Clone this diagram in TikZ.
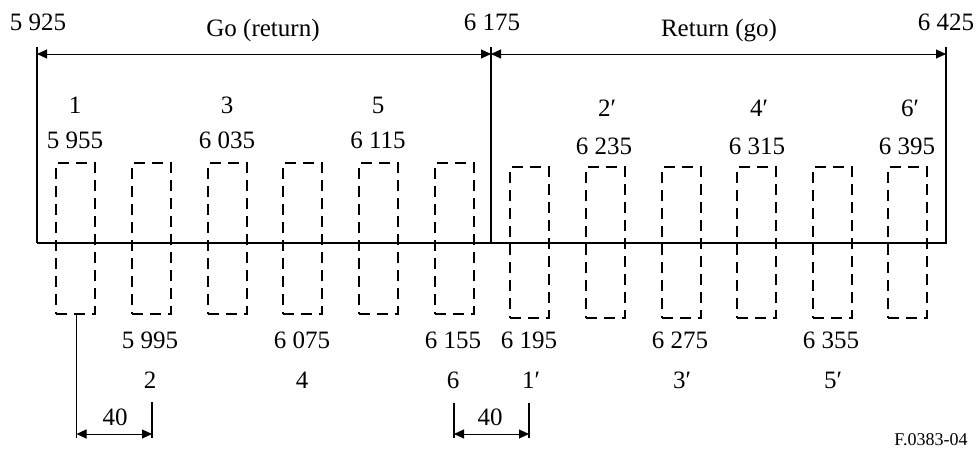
\documentclass[tikz,border=0pt]{standalone}
\usepackage{fontspec}
\setmainfont{Liberation Serif}
\usetikzlibrary{arrows.meta}
\begin{document}
\begin{tikzpicture}[x=1pt,y=-1pt,
  lbl/.style={inner sep=0pt, text height=17pt, text depth=0pt, font=\fontsize{25}{29}\selectfont},
  small/.style={inner sep=0pt, text height=12.5pt, text depth=0pt, font=\fontsize{18}{22}\selectfont},
  chan/.style={draw, line width=2pt, dash pattern=on 11pt off 7pt, minimum width=39pt, minimum height=151pt, inner sep=0pt},
  dimline/.style={line width=1pt, {Triangle[length=10pt,width=9pt]}-{Triangle[length=10pt,width=9pt]}},
  edge/.style={line width=1.5pt},
  thin/.style={line width=1.2pt}]
\useasboundingbox (0,0) rectangle (978,450);
% frame lines
\coordinate (L) at (37,243);
\coordinate (M) at (491,243);
\coordinate (R) at (946,243);
\coordinate (Lt) at (37,47);
\coordinate (Mt) at (491,47);
\coordinate (Rt) at (946,47);
\coordinate (La) at (37,54);
\coordinate (Ma) at (491,54);
\coordinate (Ra) at (946,54);
\draw[edge] (Lt) -- (L);
\draw[edge] (Mt) -- (M);
\draw[edge,line join=miter] (Rt) -- (R) -- (L);
\draw[line width=2pt] (L) -- (R);
\draw[dimline] (La) -- (Ma);
\draw[dimline] (Ma) -- (Ra);
% top labels
\node[lbl] (f5925) at (38,22) {5 925};
\node[lbl] (go) at (263,28) {Go (return)};
\node[lbl] (f6175) at (492,22) {6 175};
\node[lbl] (ret) at (719,28) {Return (go)};
\node[lbl] (f6425) at (946,22) {6 425};
% channel boxes (go)
\node[chan] (b1) at (75.5,238.5) {};
\node[chan] (b2) at (151,238.5) {};
\node[chan] (b3) at (227,238.5) {};
\node[chan] (b4) at (302.5,238.5) {};
\node[chan] (b5) at (378,238.5) {};
\node[chan] (b6) at (454,238.5) {};
% channel boxes (return)
\node[chan] (c1) at (529.5,242.5) {};
\node[chan] (c2) at (605,242.5) {};
\node[chan] (c3) at (681,242.5) {};
\node[chan] (c4) at (756.5,242.5) {};
\node[chan] (c5) at (832.5,242.5) {};
\node[chan] (c6) at (907.5,242.5) {};
% upper labels
\node[lbl] (n1) at (75,105) {1};
\node[lbl] (f5955) at (75,140) {5 955};
\node[lbl] (n3) at (227,105) {3};
\node[lbl] (f6035) at (227,140) {6 035};
\node[lbl] (n5) at (378,105) {5};
\node[lbl] (f6115) at (378,140) {6 115};
\node[lbl] (m2) at (607,108) {2′};
\node[lbl] (f6235) at (604,146) {6 235};
\node[lbl] (m4) at (759,108) {4′};
\node[lbl] (f6315) at (757,146) {6 315};
\node[lbl] (m6) at (910,108) {6′};
\node[lbl] (f6395) at (907,146) {6 395};
% lower labels
\node[lbl] (f5995) at (150,340) {5 995};
\node[lbl] (n2) at (150,380) {2};
\node[lbl] (f6075) at (302,340) {6 075};
\node[lbl] (n4) at (302,380) {4};
\node[lbl] (f6155) at (453,340) {6 155};
\node[lbl] (n6) at (453,380) {6};
\node[lbl] (f6195) at (529,340) {6 195};
\node[lbl] (m1) at (531,380) {1′};
\node[lbl] (f6275) at (680,340) {6 275};
\node[lbl] (m3) at (682,380) {3′};
\node[lbl] (f6355) at (831,340) {6 355};
\node[lbl] (m5) at (833,380) {5′};
% spacing dimensions
\coordinate (d1b) at (76.5,438);
\coordinate (d2t) at (152,402);
\coordinate (d2b) at (152,438);
\coordinate (d1a) at (76.5,434);
\coordinate (d2a) at (152,434);
\draw[thin] (b1.south -| d1b) -- (d1b);
\draw[thin] (d2t) -- (d2b);
\draw[dimline] (d1a) -- (d2a);
\node[lbl] (w1) at (115,417) {40};
\coordinate (e1t) at (454,403);
\coordinate (e1b) at (454,438);
\coordinate (e2t) at (529,403);
\coordinate (e2b) at (529,438);
\coordinate (e1a) at (454,434);
\coordinate (e2a) at (529,434);
\draw[thin] (e1t) -- (e1b);
\draw[thin] (e2t) -- (e2b);
\draw[dimline] (e1a) -- (e2a);
\node[lbl] (w2) at (490,417) {40};
\node[small] (fig) at (931,439) {F.0383-04};
\end{tikzpicture}
\end{document}
